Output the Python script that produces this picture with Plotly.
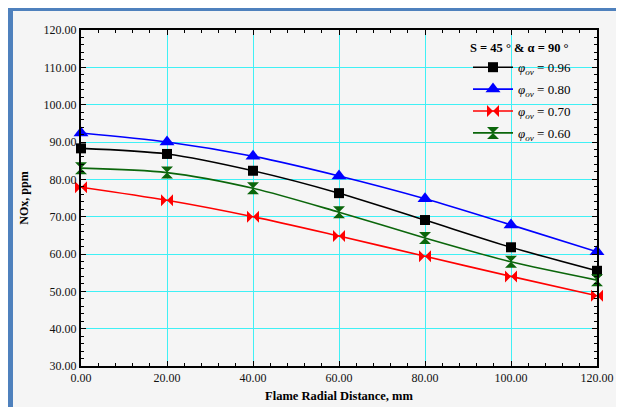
import plotly.graph_objects as go

x_mm = [0, 20, 40, 60, 80, 100, 120]
phi_096 = [88.3, 86.8, 82.3, 76.3, 69.1, 61.8, 55.5]
phi_080 = [92.4, 90.0, 86.2, 80.9, 74.8, 67.8, 60.6]
phi_070 = [77.9, 74.4, 70.0, 64.8, 59.4, 54.0, 48.8]
phi_060 = [83.0, 81.8, 77.6, 71.2, 64.3, 57.9, 53.0]

series_labels = ["0.96", "0.80", "0.70", "0.60"]
x_ticks = [0, 20, 40, 60, 80, 100, 120]
y_ticks = [30, 40, 50, 60, 70, 80, 90, 100, 110, 120]

# page has an 8px body margin; the figure is sized to fit the window
OFF = 8
W, H = 624 - OFF, 407 - OFF
ML, MR, MT, MB = 73, 27, 22, 41
PW, PH = W - ML - MR, H - MT - MB

def px(x):
    return (x - ML) / PW

def py(y):
    return (H - MB - y) / PH

SERIF = "Liberation Serif"

fig = go.Figure()
styles = [
    (phi_096, "black", "square", 10),
    (phi_080, "#0000ff", "triangle-up", 13),
    (phi_070, "#ff0000", "bowtie", 12),
    (phi_060, "#0b660b", "hourglass", 12),
]
for i, ((vals, col, sym, sz), lab) in enumerate(zip(styles, series_labels)):
    fig.add_trace(go.Scatter(
        x=x_mm, y=vals, mode="lines+markers",
        name="<i>φ</i><sub><i>ov</i></sub> = " + lab,
        legendgroup="g%d" % i,
        line=dict(color=col, width=1.6, shape="spline", smoothing=0.8),
        marker=dict(symbol=sym, size=sz, color=col),
        cliponaxis=False,
    ))

axis_common = dict(
    showgrid=True, gridcolor="#3ff0f5", gridwidth=1,
    showline=True, linecolor="black", linewidth=2, mirror="ticks",
    ticks="inside", ticklen=5, tickcolor="black", tickwidth=1,
    tickformat=".2f", tickfont=dict(family=SERIF, size=12, color="#111"),
    zeroline=False, automargin=False,
)

fig.update_xaxes(
    range=[0, 120], tickvals=x_ticks,
    minor=dict(dtick=4, ticks="inside", ticklen=3, tickcolor="black", showgrid=False),
    title=dict(text="<b>Flame Radial Distance, mm</b>", font=dict(family=SERIF, size=12.5, color="black"), standoff=7),
    **axis_common,
)
fig.update_yaxes(
    range=[30, 120], tickvals=y_ticks,
    minor=dict(dtick=2, ticks="inside", ticklen=3, tickcolor="black", showgrid=False),
    title=dict(text="<b>NOx, ppm</b>", font=dict(family=SERIF, size=12, color="black"), standoff=12),
    **axis_common,
)

shapes = [
    dict(type="rect", xref="paper", yref="paper", x0=px(614), x1=px(W + 2), y0=py(-2), y1=py(H + 2),
         fillcolor="white", line=dict(width=0), layer="below"),
    dict(type="rect", xref="paper", yref="paper", x0=px(-2), x1=px(5), y0=py(-2), y1=py(H + 2),
         fillcolor="#4f81bd", line=dict(width=0), layer="below"),
    dict(type="rect", xref="paper", yref="paper", x0=px(-2), x1=px(614), y0=py(-2), y1=py(3),
         fillcolor="#4f81bd", line=dict(width=0), layer="below"),
    dict(type="line", xref="paper", yref="paper", x0=px(613), x1=px(613), y0=py(3), y1=py(H + 2),
         line=dict(color="#9fb3cc", width=1), layer="below"),
]

fig.update_layout(
    width=W, height=H,
    margin=dict(l=ML, r=MR, t=MT, b=MB, autoexpand=False),
    paper_bgcolor="#f5f5f5", plot_bgcolor="#f5f5f5",
    shapes=shapes,
    showlegend=True,
    legend=dict(
        x=px(460), y=py(28), xanchor="left", yanchor="top",
        bgcolor="rgba(0,0,0,0)", borderwidth=0,
        title=dict(text="<b>S = 45 ° & α = 90 °</b>", font=dict(family=SERIF, size=12.5, color="black")),
        font=dict(family=SERIF, size=13, color="black"),
        itemwidth=40, tracegroupgap=2,
    ),
)

fig.write_html("out.html")
